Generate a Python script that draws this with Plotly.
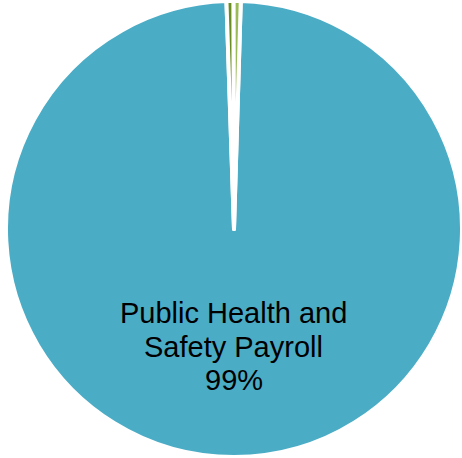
import plotly.graph_objects as go

labels = ["Public Health and Safety Payroll", "Other A", "Other B"]
values = [99.0, 0.5, 0.5]
colors = ["#4BACC6", "#6B8E23", "#9BBB59"]
label_lines = ["Public Health and", "Safety Payroll", "99%"]

W, H = 462, 458

fig = go.Figure(go.Pie(
    labels=labels,
    values=values,
    textinfo="none",
    sort=False,
    direction="clockwise",
    rotation=1.7,
    marker=dict(colors=colors, line=dict(color="white", width=4)),
    domain=dict(x=[6/W, 1], y=[0, 1]),
    showlegend=False,
    hoverinfo="label+percent",
))

line_y = [313, 347, 380]
for txt, yy in zip(label_lines, line_y):
    fig.add_annotation(
        text=txt, x=234/W, y=1 - yy/H, xref="paper", yref="paper",
        xanchor="center", yanchor="middle", showarrow=False,
        font=dict(family="Liberation Sans, Arial", size=29, color="black"),
    )

fig.update_layout(
    width=W, height=H,
    margin=dict(l=0, r=0, t=0, b=0),
    paper_bgcolor="white",
    showlegend=False,
)
fig.write_html("out.html", config={"displayModeBar": False},
               post_script="document.body.style.margin='0';")
